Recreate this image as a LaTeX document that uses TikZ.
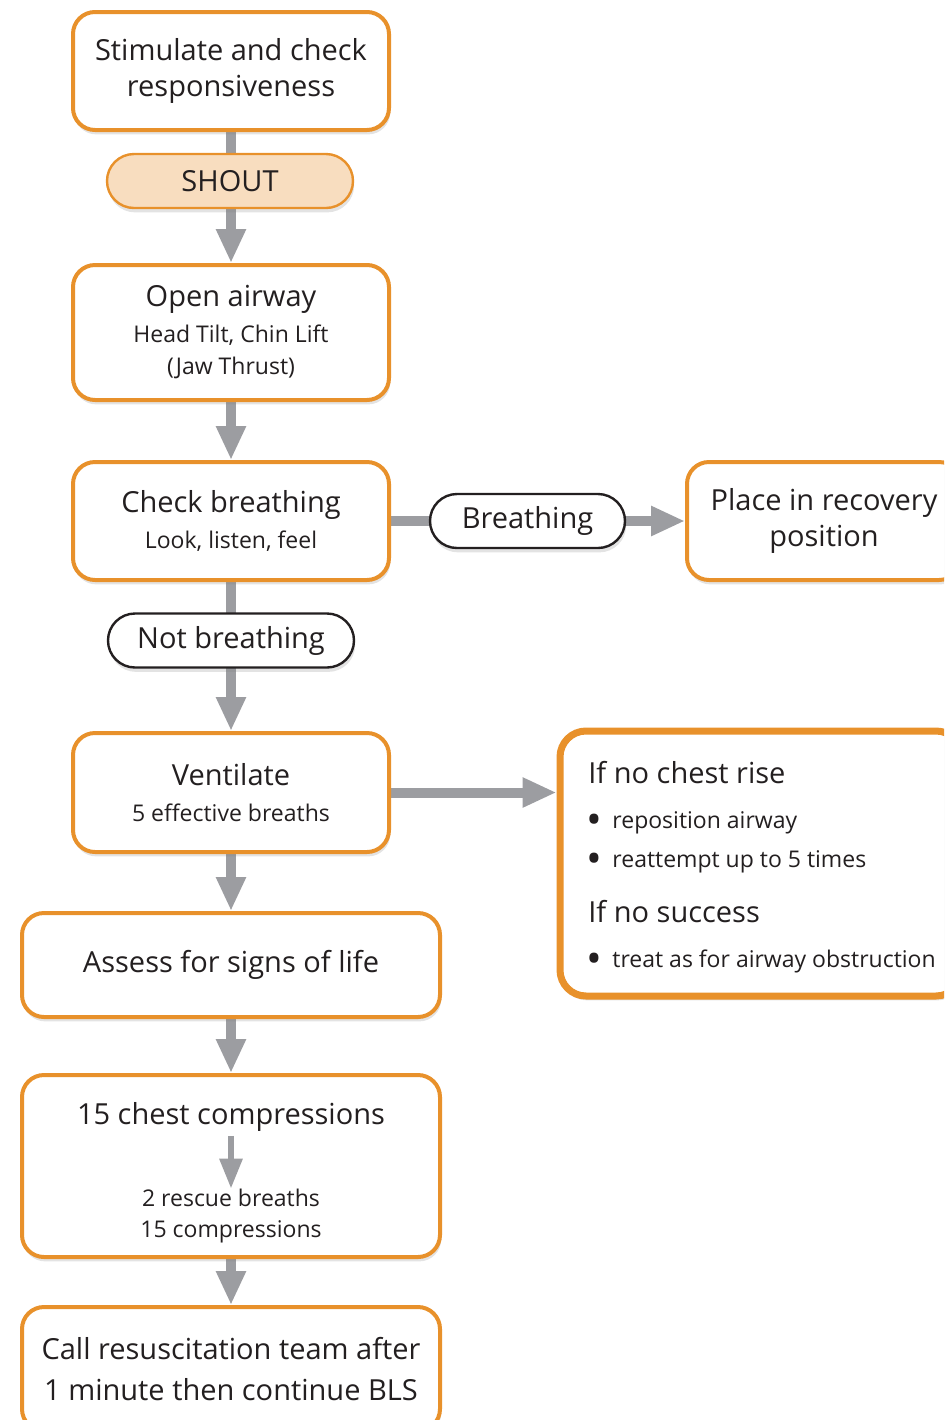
\documentclass[tikz,border=0pt]{standalone}
\usepackage{fontspec}
\setmainfont{Open Sans}
\usetikzlibrary{arrows.meta,shadows,backgrounds}

\definecolor{frame}{HTML}{E8912B}
\definecolor{peach}{HTML}{F8DDBF}
\definecolor{arrowgray}{HTML}{9C9DA1}
\definecolor{ink}{HTML}{231F20}

\newcommand\bigtxt{\fontsize{14.5}{18}\selectfont}
\newcommand\smalltxt{\fontsize{11.5}{15.5}\selectfont}
\newcommand\dotitem{\makebox[13pt][l]{\raisebox{-3.2pt}{\fontsize{21}{21}\selectfont\textbullet}}}

\tikzset{
  shade/.style={drop shadow={opacity=0.22, shadow xshift=0.6pt, shadow yshift=-2.2pt}},
  box/.style={draw=frame, line width=2pt, rounded corners=11pt, fill=white,
    align=center, text=ink, font=\bigtxt, inner sep=0pt, shade},
  pill/.style={line width=1.2pt, rounded corners=13.5pt, align=center, text=ink,
    font=\bigtxt, inner sep=0pt, minimum height=27pt, shade},
  txt/.style={text=ink, inner sep=0pt},
  arr/.style={draw=arrowgray, line width=5pt, -{Triangle[width=14pt,length=17pt]}},
  arrsmall/.style={draw=arrowgray, line width=3pt, -{Triangle[width=11pt,length=15pt]}},
}

\begin{document}
\begin{tikzpicture}[x=0.5pt,y=-0.5pt]
\useasboundingbox (0,0) rectangle (944,1420);
\clip (0,0) rectangle (944,1420);

% main column
\node[box, minimum width=158pt, minimum height=59pt] (stim) at (231,71)
  {Stimulate and check\\responsiveness};
\node[pill, draw=frame, fill=peach, minimum width=123pt] (shout) at (230,181) {SHOUT};
\node[box, minimum width=158pt, minimum height=67.5pt] (open) at (231,332.5)
  {Open airway\\{\smalltxt Head Tilt, Chin Lift}\\[-2pt]{\smalltxt (Jaw Thrust)}};
\node[box, minimum width=158pt, minimum height=59pt] (check) at (231,521)
  {Check breathing\\{\smalltxt Look, listen, feel}};
\node[pill, draw=ink, fill=white, minimum width=97.5pt] (breath) at (527.5,521) {Breathing};
\node[box, minimum width=137pt, minimum height=59pt] (place) at (824,521)
  {Place in recovery\\position};
\node[pill, draw=ink, fill=white, minimum width=123pt] (notbr) at (231,640.5) {Not breathing};
\node[box, minimum width=158pt, minimum height=59.5pt] (vent) at (231,792.5)
  {Ventilate\\{\smalltxt 5 effective breaths}};
\node[box, minimum width=209pt, minimum height=52pt] (assess) at (231,965)
  {Assess for signs of life};
\node[box, minimum width=209pt, minimum height=91pt] (cc) at (231,1166) {};
\node[txt, font=\bigtxt] (cct) at (231,1117) {15 chest compressions};
\node[txt, font=\smalltxt, align=center] (ccb) at (231,1216)
  {2 rescue breaths\\15 compressions};
\node[box, minimum width=209pt, minimum height=62pt] (call) at (231,1369)
  {Call resuscitation team after\\[2.5pt]1 minute then continue BLS};

% side panel for failed ventilation
\node[box, line width=3.5pt, rounded corners=13pt, minimum width=201pt,
  minimum height=132.5pt] (rbox) at (761,863.5) {};
\node[txt, font=\bigtxt, anchor=base west] (r1) at (588,783) {If no chest rise};
\node[txt, font=\smalltxt, anchor=base west] (r2) at (586,828)
  {\dotitem reposition airway};
\node[txt, font=\smalltxt, anchor=base west] (r3) at (586,867)
  {\dotitem reattempt up to 5 times};
\node[txt, font=\bigtxt, anchor=base west] (r4) at (588,922) {If no success};
\node[txt, font=\smalltxt, anchor=base west] (r5) at (586,967)
  {\dotitem treat as for airway obstruction};

% step inside the compressions box
\draw[arrsmall, shorten <=2pt] (cct) -- (ccb);

% connectors, behind the boxes
\begin{scope}[on background layer]
  \draw[arr] (stim) -- (open);
  \draw[arr] (open) -- (check);
  \draw[arr] (check.east) -- (place.west);
  \draw[arr] (check) -- (vent);
  \draw[arr] (vent.east) -- (vent.east -| rbox.west);
  \draw[arr] (vent) -- (assess);
  \draw[arr] (assess) -- (cc);
  \draw[arr] (cc) -- (call);
\end{scope}
\end{tikzpicture}
\end{document}
